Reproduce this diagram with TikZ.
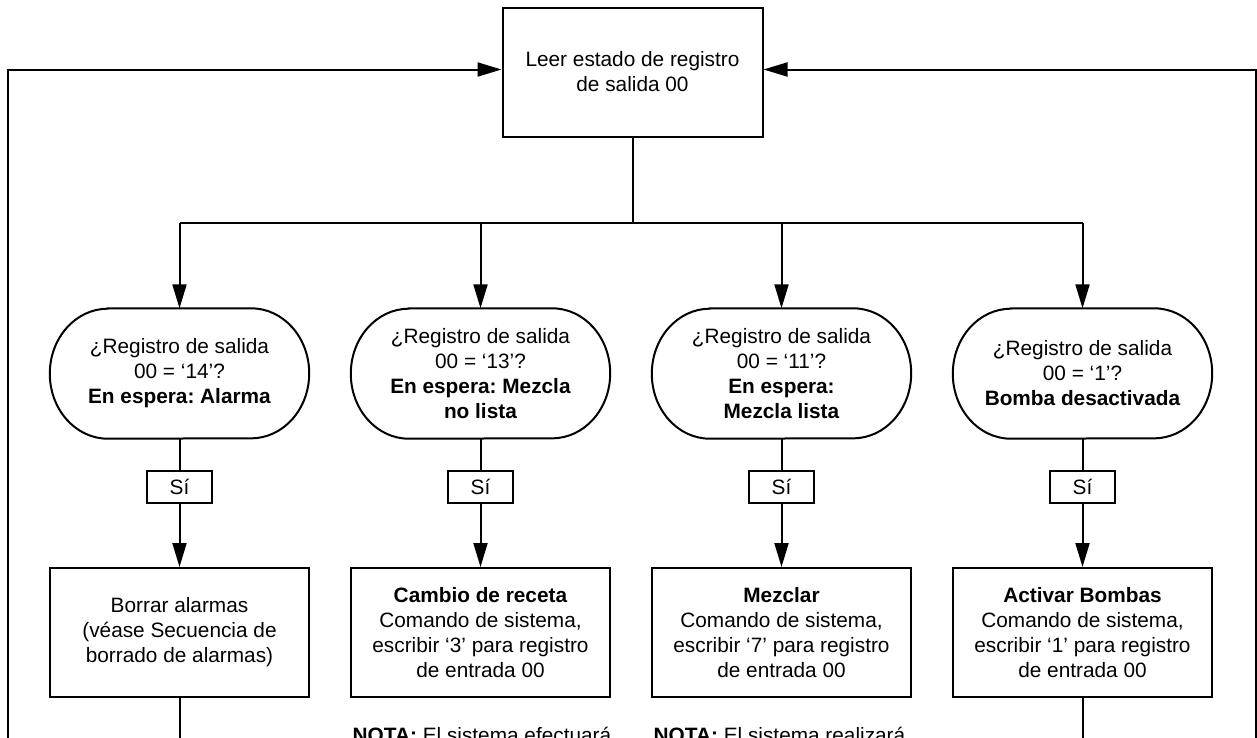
\documentclass[tikz,border=0pt]{standalone}
\usepackage{fontspec}
\setmainfont{Liberation Sans}
\usetikzlibrary{arrows.meta}
\frenchspacing
\tikzset{
  lw/.style={line width=2pt},
  arr/.style={lw,-{Triangle[length=24pt,width=14pt]}},
  txt/.style={font=\fontsize{20.8}{25}\selectfont, align=center},
  procbox/.style={txt,draw,lw,minimum width=259pt,minimum height=129pt,inner sep=0pt},
  stadium/.style={txt,minimum width=259pt,minimum height=130pt,inner sep=0pt},
  sibox/.style={txt,draw,lw,minimum width=65pt,minimum height=32.6pt,inner sep=0pt},
  notetxt/.style={font=\fontsize{20.8}{25}\selectfont,anchor=base west,inner sep=0pt}
}
\newcommand{\stadiumoutline}[1]{%
  \draw[lw] ([xshift=58pt]#1.north west) -- ([xshift=-58pt]#1.north east)
    arc[start angle=90,end angle=-90,x radius=58pt,y radius=65pt]
    -- ([xshift=58pt]#1.south west)
    arc[start angle=270,end angle=90,x radius=58pt,y radius=65pt] -- cycle;}
\begin{document}
\begin{tikzpicture}[x=1pt,y=-1pt]
\frenchspacing
\useasboundingbox (0,0) rectangle (1257,737);
\clip (0,0) rectangle (1257,737);
% top box
\node[procbox,minimum width=260pt] (top) at (632.5,72) {Leer estado de registro\\de salida 00};
% stadiums
\node[stadium] (q1) at (179.5,373.5) {¿Registro de salida\\00 = ‘14’?\\\textbf{En espera: Alarma}};
\node[stadium] (q2) at (480.5,373.5) {¿Registro de salida\\00 = ‘13’?\\\textbf{En espera: Mezcla}\\\textbf{no lista}};
\node[stadium] (q3) at (781.5,373.5) {¿Registro de salida\\00 = ‘11’?\\\textbf{En espera:}\\\textbf{Mezcla lista}};
\node[stadium] (q4) at (1082.5,373.5) {¿Registro de salida\\00 = ‘1’?\\\textbf{Bomba desactivada}};
\stadiumoutline{q1}
\stadiumoutline{q2}
\stadiumoutline{q3}
\stadiumoutline{q4}
% yes boxes
\node[sibox] (s1) at (179.5,487) {Sí};
\node[sibox] (s2) at (480.5,487) {Sí};
\node[sibox] (s3) at (781.5,487) {Sí};
\node[sibox] (s4) at (1082.5,487) {Sí};
% action boxes
\node[procbox] (b1) at (179.5,632.5) {Borrar alarmas\\(véase Secuencia de\\borrado de alarmas)};
\node[procbox] (b2) at (480.5,632.5) {\textbf{Cambio de receta}\\Comando de sistema,\\escribir ‘3’ para registro\\de entrada 00};
\node[procbox] (b3) at (781.5,632.5) {\textbf{Mezclar}\\Comando de sistema,\\escribir ‘7’ para registro\\de entrada 00};
\node[procbox] (b4) at (1082.5,632.5) {\textbf{Activar Bombas}\\Comando de sistema,\\escribir ‘1’ para registro\\de entrada 00};
% notes (cut off at the bottom, as in the reference)
\node[notetxt] (n2) at (352.5,742.5) {\textbf{NOTA:} El sistema efectuará};
\node[notetxt] (n3) at (653.5,742.5) {\textbf{NOTA:} El sistema realizará};
% bus
\coordinate (bus) at (632.5,222.7);
\draw[lw] (top.south) -- (bus);
\draw[lw] (q1.north |- bus) -- (q4.north |- bus);
\foreach \i in {1,2,3,4}{
  \draw[arr] (q\i.north |- bus) -- (q\i.north);
  \draw[lw] (q\i.south) -- (s\i.north);
  \draw[arr] (s\i.south) -- (b\i.north);
}
% return loops
\coordinate (lb) at (7.5,760);
\coordinate (lt) at (7.5,69.5);
\coordinate (rb) at (1255.5,760);
\coordinate (rt) at (1255.5,69.5);
\coordinate (d1) at (179.5,760);
\coordinate (d4) at (1082.5,760);
\draw[lw] (b1.south) -- (d1);
\draw[lw] (b4.south) -- (d4);
\draw[arr] (lb) -- (lt) -- (lt -| top.west);
\draw[arr] (rb) -- (rt) -- (rt -| top.east);
\end{tikzpicture}
\end{document}
